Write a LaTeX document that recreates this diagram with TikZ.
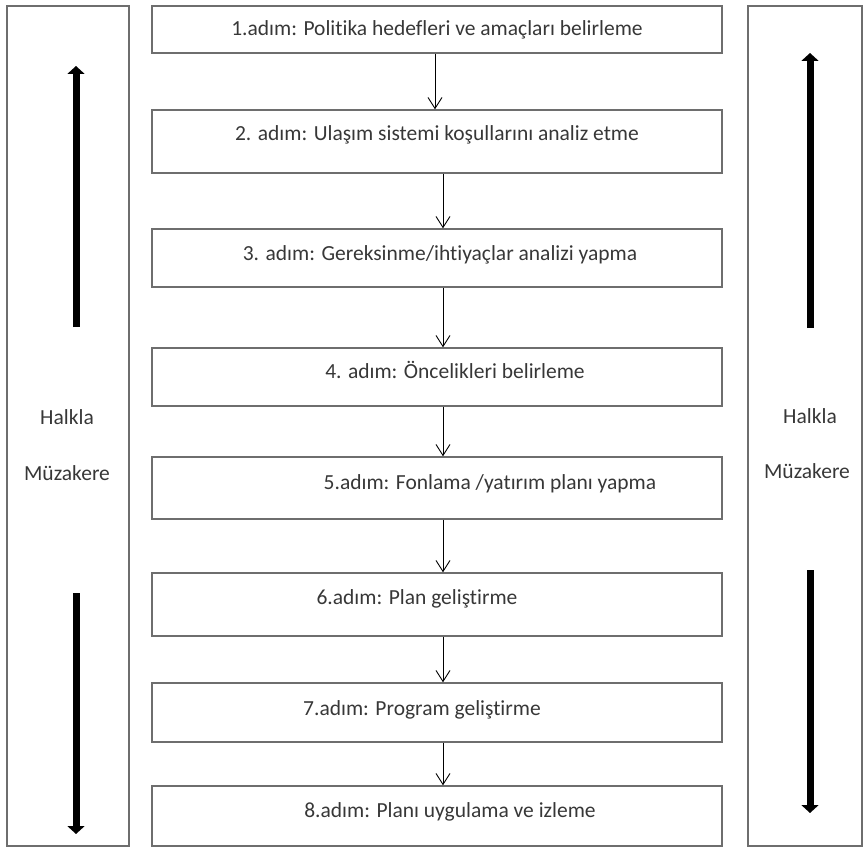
\documentclass[tikz,border=0pt]{standalone}
\usepackage{fontspec}
\setmainfont{Carlito}[Ligatures=NoCommon]
\usepackage{tikz}
\usetikzlibrary{positioning, arrows.meta}
\usepackage{xcolor}
\definecolor{boxgray}{RGB}{110, 110, 110}
\definecolor{textgray}{RGB}{55, 55, 55}

\begin{document}
\begin{tikzpicture}[x=1pt, y=-1pt,
    stepbox/.style={draw=boxgray, line width=1.4pt, minimum width=570pt, inner sep=0pt},
    sidebox/.style={draw=boxgray, line width=1.1pt, minimum height=840pt, inner sep=0pt},
    steptext/.style={anchor=base, text=textgray, font=\fontsize{21.5}{25}\selectfont, inner sep=0pt},
    flow/.style={-{Straight Barb[length=11pt, width=14pt]}, line width=0.9pt},
    bigarrow/.style={-{Triangle[length=8pt, width=17pt]}, line width=7pt}]
  \useasboundingbox (0,0) rectangle (867,848);
  % side boxes
  \node[sidebox, minimum width=122pt] (left) at (68,426) {};
  \node[sidebox, minimum width=114pt] (right) at (805,426) {};
  \node[steptext] (lh) at (67,424) {Halkla};
  \node[steptext] (lm) at (67,480) {Müzakere};
  \node[steptext] (rh) at (810,423) {Halkla};
  \node[steptext] (rm) at (807,478) {Müzakere};
  % big arrows
  \coordinate (lupA) at (76,327);
  \coordinate (lupB) at (76,66);
  \coordinate (ldnA) at (76,593);
  \coordinate (ldnB) at (76,834);
  \coordinate (rupA) at (810,328);
  \coordinate (rupB) at (810,53);
  \coordinate (rdnA) at (810,570);
  \coordinate (rdnB) at (810,813);
  \draw[bigarrow] (lupA) -- (lupB);
  \draw[bigarrow] (ldnA) -- (ldnB);
  \draw[bigarrow] (rupA) -- (rupB);
  \draw[bigarrow] (rdnA) -- (rdnB);
  % step boxes
  \node[stepbox, minimum height=47pt] (s1) at (437,29.5) {};
  \node[stepbox, minimum height=63pt] (s2) at (437,141.5) {};
  \node[stepbox, minimum height=58pt] (s3) at (437,258) {};
  \node[stepbox, minimum height=58pt] (s4) at (437,377) {};
  \node[stepbox, minimum height=62pt] (s5) at (437,488) {};
  \node[stepbox, minimum height=63pt] (s6) at (437,604.5) {};
  \node[stepbox, minimum height=59pt] (s7) at (437,712.5) {};
  \node[stepbox, minimum height=60pt] (s8) at (437,816) {};
  % step texts
  \node[steptext] (t1) at (437,36) {1.adım: Politika hedefleri ve amaçları belirleme};
  \node[steptext] (t2) at (437,141) {2. adım: Ulaşım sistemi koşullarını analiz etme};
  \node[steptext] (t3) at (440,260) {3. adım: Gereksinme/ihtiyaçlar analizi yapma};
  \node[steptext] (t4) at (455,378) {4. adım: Öncelikleri belirleme};
  \node[steptext] (t5) at (490,489) {5.adım: Fonlama /yatırım planı yapma};
  \node[steptext] (t6) at (417,604) {6.adım: Plan geliştirme};
  \node[steptext] (t7) at (422,715) {7.adım: Program geliştirme};
  \node[steptext] (t8) at (450,817) {8.adım: Planı uygulama ve izleme};
  % connectors
  \draw[flow] ([xshift=-2pt]s1.south) -- ([xshift=-2pt]s2.north);
  \draw[flow] ([xshift=6pt]s2.south) -- ([xshift=6pt]s3.north);
  \draw[flow] ([xshift=6pt]s3.south) -- ([xshift=6pt]s4.north);
  \draw[flow] ([xshift=6pt]s4.south) -- ([xshift=6pt]s5.north);
  \draw[flow] ([xshift=6pt]s5.south) -- ([xshift=6pt]s6.north);
  \draw[flow] ([xshift=6pt]s6.south) -- ([xshift=6pt]s7.north);
  \draw[flow] ([xshift=6pt]s7.south) -- ([xshift=6pt]s8.north);
\end{tikzpicture}
\end{document}
